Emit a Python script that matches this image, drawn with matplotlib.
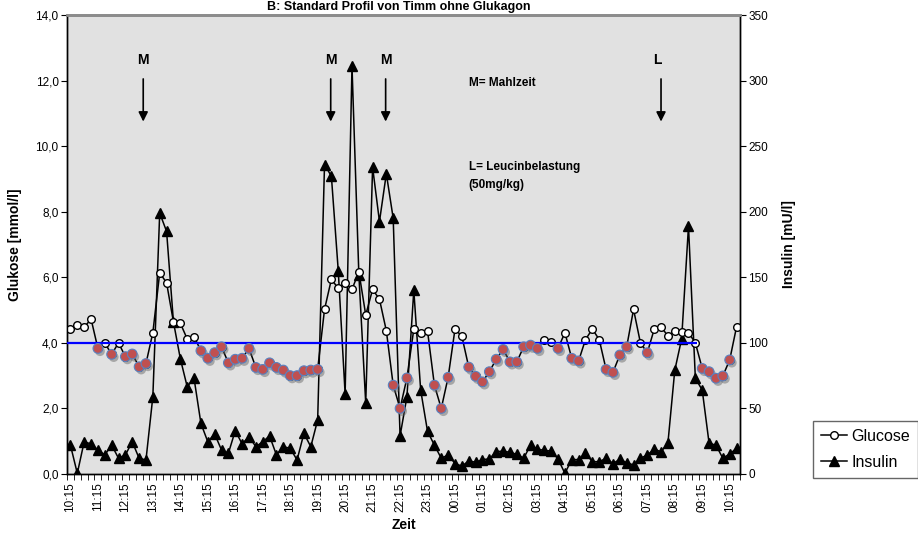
import numpy as np
import matplotlib
matplotlib.use('Agg')
import matplotlib.pyplot as plt
import matplotlib.patheffects as pe
from matplotlib.lines import Line2D

plt.rcParams['font.family'] = ['Liberation Sans Narrow', 'Liberation Sans', 'DejaVu Sans']

# glucose [mmol/l] every 15 min, starting 10:15
glucose = [4.41, 4.54, 4.47, 4.73, 3.83, 4.00, 3.65, 4.00, 3.58, 3.66,
           3.27, 3.37, 4.31, 6.14, 5.83, 4.64, 4.60, 4.12, 4.19, 3.76,
           3.53, 3.70, 3.88, 3.39, 3.50, 3.53, 3.83, 3.25, 3.19, 3.39,
           3.25, 3.17, 3.00, 3.00, 3.15, 3.17, 3.19, 5.02, 5.94, 5.66,
           5.83, 5.63, 6.17, 4.85, 5.63, 5.33, 4.37, 2.71, 2.00, 2.93,
           4.42, 4.31, 4.36, 2.71, 2.00, 2.95, 4.42, 4.20, 3.26, 2.98,
           2.81, 3.12, 3.50, 3.80, 3.42, 3.42, 3.88, 3.93, 3.83, 4.10,
           4.03, 3.83, 4.31, 3.53, 3.45, 4.10, 4.42, 4.10, 3.19, 3.10,
           3.63, 3.88, 5.02, 4.00, 3.70, 4.41, 4.49, 4.21, 4.37, 4.34,
           4.31, 4.00, 3.22, 3.12, 2.92, 2.99, 3.48, 4.49]

# insulin [mU/l]
insulin = [22, 0.5, 24.6, 22.9, 18.3, 14.5, 22.1, 12, 14.5, 24.6,
           12, 10.7, 59, 199, 185, 116, 88, 66.6, 73, 38.6,
           24.6, 30.5, 18.3, 15.8, 33, 23, 28.5, 20.8, 24.6, 29,
           14.5, 20.8, 19.6, 10.7, 31, 20.8, 41.2, 236, 227, 155,
           61, 311, 152, 54, 234, 192.5, 229, 195, 29, 59,
           140, 64, 32.5, 22, 12, 14.5, 8, 6, 10, 9,
           11, 11.5, 17, 17.5, 16.5, 15, 12, 22, 19, 18,
           17.5, 11.5, 0.5, 11, 11, 15.8, 9.4, 9.4, 12, 8,
           11.2, 8.6, 6.9, 12, 14.5, 18.8, 17, 23.4, 79, 103,
           189, 73, 64, 23.4, 22, 12, 15.3, 19.6]

hours = [10, 11, 12, 13, 14, 15, 16, 17, 18, 19, 20, 21, 22, 23,
         0, 1, 2, 3, 4, 5, 6, 7, 8, 9, 10]
tick_labels = ['%02d:15' % h for h in hours]

limit = 4.0          # blue reference line
limit_end = 91.3     # line stops before the last hours
low = 3.95           # highlighted hypoglycaemic values

meal_pos = [10.6, 37.9, 45.9]
leucin_pos = [86.0]

x = np.arange(len(glucose))
g = np.array(glucose)

fig = plt.figure(figsize=(9.18, 5.59), dpi=100)
ax2 = fig.add_axes([67/918, 1-474/559, 673/918, 459/559])
ax = ax2.twinx()
ax.yaxis.tick_left()
ax.yaxis.set_label_position('left')
ax2.yaxis.tick_right()
ax2.yaxis.set_label_position('right')
ax.set_zorder(ax2.get_zorder() + 1)
ax.patch.set_visible(False)
ax2.set_facecolor('#e1e1e1')

# insulin
ax2.plot(x, insulin, color='black', lw=1.1, marker='^', ms=6.5,
         mfc='black', mec='black')
ax2.set_ylim(0, 350)
ax2.set_yticks(np.arange(0, 351, 50))

# glucose
ax.plot(x, glucose, color='black', lw=1.1, marker='o', ms=5.5,
        mfc='white', mec='black', mew=1.0)
ax.hlines(limit, -0.5, limit_end, color='#0000ff', lw=1.6, zorder=4)
sel = g < low
ax.plot(x[sel], g[sel], ls='none', marker='o', ms=7, mfc='#c05050',
        mec='#5a82c0', mew=0.8, zorder=5,
        path_effects=[pe.SimplePatchShadow(offset=(1.5, -2), shadow_rgbFace='#606060', alpha=0.45),
                      pe.Normal()])
ax.set_ylim(0, 14)
ax.set_yticks(np.arange(0, 14.1, 2))
ax.set_yticklabels([('%.1f' % v).replace('.', ',') for v in np.arange(0, 14.1, 2)])

ax.set_xlim(-0.5, len(glucose) - 0.5)
ax2.set_xticks(np.arange(0, len(glucose), 4)[:len(tick_labels)])
ax2.set_xticklabels(tick_labels, rotation=90, fontsize=8.5)
ax2.set_xticks(np.arange(-0.5, len(glucose), 1), minor=True)
ax2.tick_params(axis='x', which='major', length=0, pad=6)
ax2.tick_params(axis='x', which='minor', length=4, direction='out')
ax.tick_params(axis='y', length=4, labelsize=8.5, pad=2)
ax2.tick_params(axis='y', length=4, labelsize=8.5, pad=2)

for a in (ax, ax2):
    for s in ('left', 'right', 'bottom'):
        a.spines[s].set_color('black')
        a.spines[s].set_linewidth(1.0)
    a.spines['top'].set_color('#8c8c8c')
    a.spines['top'].set_linewidth(2.0)

ax.set_ylabel('Glukose [mmol/l]', fontsize=10, fontweight='bold', labelpad=10)
ax2.set_ylabel('Insulin [mU/l]', fontsize=10, fontweight='bold', labelpad=10)
ax2.set_xlabel('Zeit', fontsize=10, fontweight='bold', labelpad=4)

# meal / leucine markers
for p in meal_pos:
    ax.text(p, 12.62, 'M', ha='center', va='center', fontsize=10, fontweight='bold')
    ax.annotate('', xy=(p, 10.75), xytext=(p, 12.05),
                arrowprops=dict(arrowstyle='-|>', color='black', lw=1.2,
                                mutation_scale=14, shrinkA=0, shrinkB=0))
for p in leucin_pos:
    ax.text(p - 0.6, 12.62, 'L', ha='center', va='center', fontsize=10, fontweight='bold')
    ax.annotate('', xy=(p, 10.75), xytext=(p, 12.05),
                arrowprops=dict(arrowstyle='-|>', color='black', lw=1.2,
                                mutation_scale=14, shrinkA=0, shrinkB=0))

ax.text(58.0, 11.92, 'M= Mahlzeit', ha='left', va='center', fontsize=8.5, fontweight='bold')
ax.text(58.0, 9.36, 'L= Leucinbelastung', ha='left', va='center', fontsize=8.5, fontweight='bold')
ax.text(58.0, 8.81, '(50mg/kg)', ha='left', va='center', fontsize=8.5, fontweight='bold')

# title sits right above the plot area (cut at the edge in the source)
fig.text(0.434, 1 - 13/559, 'B: Standard Profil von Timm ohne Glukagon', ha='center',
         va='bottom', fontsize=9, fontweight='bold')

handles = [Line2D([], [], color='black', lw=1.1, marker='o', ms=5.5, mfc='white', mec='black'),
           Line2D([], [], color='black', lw=1.1, marker='^', ms=6.5, mfc='black', mec='black')]
leg = fig.legend(handles, ['Glucose', 'Insulin'], loc='lower left',
                 bbox_to_anchor=(805/918, 1-486/559), fontsize=11.5,
                 handlelength=1.6, handletextpad=0.3, borderpad=0.5,
                 labelspacing=0.7, fancybox=False, frameon=True)
leg.get_frame().set_edgecolor('#404040')
leg.get_frame().set_linewidth(1.0)

fig.savefig('out.png', dpi=100)
